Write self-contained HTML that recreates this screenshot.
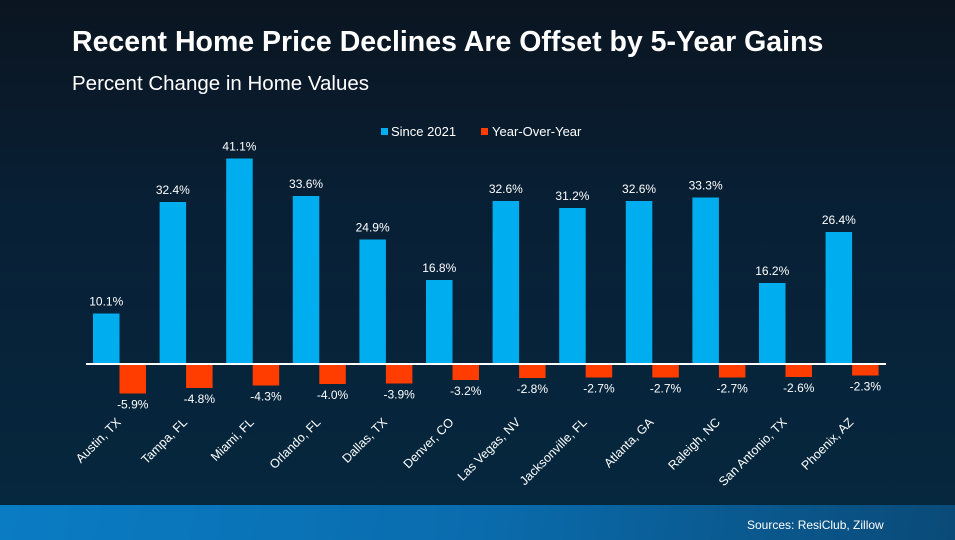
<!DOCTYPE html>
<html><head><meta charset="utf-8"><style>
html,body{margin:0;padding:0}
body{width:955px;height:540px;overflow:hidden;position:relative;font-family:"Liberation Sans",Arial,sans-serif;background:linear-gradient(180deg,#0b1521 0%,#082036 40%,#05283f 100%)}
#strip{position:absolute;left:0;top:505px;width:955px;height:35px;background:linear-gradient(100deg,#0a7cc4 0%,#0a6cad 50%,#0a4a78 100%)}
#title{position:absolute;left:72px;top:26px;color:#fff;font-weight:bold;font-size:28.5px;white-space:nowrap}
#sub{position:absolute;left:72px;top:72px;color:#fff;font-size:20.5px;white-space:nowrap}
#src{position:absolute;left:747px;top:518px;color:#fff;font-size:12px}
svg{position:absolute;left:0;top:0}
</style></head><body>
<div id="strip"></div>
<div id="title">Recent Home Price Declines Are Offset by 5-Year Gains</div>
<div id="sub">Percent Change in Home Values</div>
<div id="src">Sources: ResiClub, Zillow</div>
<svg id="chart" width="955" height="540">
<g>
<rect x="381" y="128" width="7" height="7" fill="#00aeef"/>
<text x="391" y="136" fill="#fff" font-size="13">Since 2021</text>
<rect x="481" y="128" width="7" height="7" fill="#ff3d00"/>
<text x="492" y="136" fill="#fff" font-size="13">Year-Over-Year</text>
</g>
</svg>
<script>
const categories=["Austin, TX","Tampa, FL","Miami, FL","Orlando, FL","Dallas, TX","Denver, CO","Las Vegas, NV","Jacksonville, FL","Atlanta, GA","Raleigh, NC","San Antonio, TX","Phoenix, AZ"];
const since2021=[10.1,32.4,41.1,33.6,24.9,16.8,32.6,31.2,32.6,33.3,16.2,26.4];
const yearOverYear=[-5.9,-4.8,-4.3,-4.0,-3.9,-3.2,-2.8,-2.7,-2.7,-2.7,-2.6,-2.3];

const NS="http://www.w3.org/2000/svg";
const svg=document.getElementById('chart');
const baseY=364, pxPer=5.0, x0=93, step=66.6, bw=26.5;
const y=v=>baseY-v*pxPer;
const gx=i=>x0+i*step;
function mk(tag,attrs,parent){const e=document.createElementNS(NS,tag);for(const k in attrs)e.setAttribute(k,attrs[k]);(parent||svg).appendChild(e);return e;}
categories.forEach((c,i)=>{
  const a=since2021[i], b=yearOverYear[i];
  const r1=mk('rect',{x:gx(i),y:y(a),width:bw,height:baseY-y(a),fill:'#00aeef'});
  
  
  const r2=mk('rect',{x:gx(i)+bw,y:baseY,width:bw,height:y(b)-baseY,fill:'#ff3d00'});
  
  
  const t1=mk('text',{x:gx(i)+bw/2,y:y(a)-8,fill:'#fff','font-size':12,'text-anchor':'middle'});
  t1.textContent=a.toFixed(1)+'%';
  
  
  const t2=mk('text',{x:gx(i)+bw*1.5,y:y(b)+15,fill:'#fff','font-size':12,'text-anchor':'middle'});
  t2.textContent=b.toFixed(1)+'%';
  
  
  const cx=gx(i)+bw+2, cy=423;
  const t3=mk('text',{x:cx,y:cy,fill:'#fff','font-size':12.5,'text-anchor':'end',transform:'rotate(-45 '+cx+' '+cy+')'});
  t3.textContent=c;
  
  
});
const ax=mk('line',{x1:86,x2:886,y1:baseY,y2:baseY,stroke:'#fff','stroke-width':2});


</script>
</body></html>
